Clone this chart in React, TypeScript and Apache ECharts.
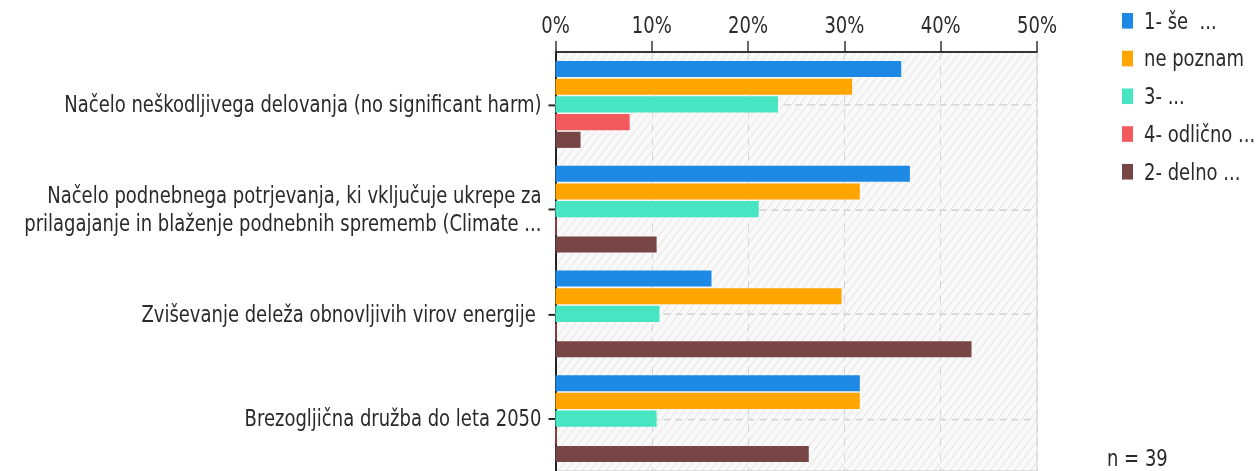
import React, { useEffect, useRef } from 'react';
import * as echarts from 'echarts';

const categories = [
  'Načelo neškodljivega delovanja (no significant harm)',
  'Načelo podnebnega potrjevanja, ki vključuje ukrepe za\nprilagajanje in blaženje podnebnih sprememb (Climate ...',
  'Zviševanje deleža obnovljivih virov energije ',
  'Brezogljična družba do leta 2050',
];

const seriesNames = ['1- še  ...', 'ne poznam', '3- ...', '4- odlično ...', '2- delno ...'];
const seriesColors = ['#1E88E5', '#FFA500', '#48E5C2', '#F25A5E', '#774545'];

const valuesSe = [35.9, 36.8, 16.2, 31.6];
const valuesNePoznam = [30.8, 31.6, 29.7, 31.6];
const values3 = [23.1, 21.1, 10.8, 10.5];
const values4Odlicno = [7.7, 0, 0, 0];
const values2Delno = [2.6, 10.5, 43.2, 26.3];

const xMin = 0;
const xMax = 50;
const xInterval = 10;
const nText = 'n = 39';

const H = 362;
const SCALE = 471 / H;
const FONT = 'DejaVu Sans';
const TEXT = '#2a2a2a';

export default function App() {
  const ref = useRef<HTMLDivElement>(null);
  useEffect(() => {
    if (!ref.current) return;
    const chart = echarts.init(ref.current, null, { renderer: 'svg' });

    const cv = document.createElement('canvas');
    cv.width = 8;
    cv.height = 8;
    const ctx = cv.getContext('2d')!;
    ctx.fillStyle = '#f9f9f9';
    ctx.fillRect(0, 0, 8, 8);
    ctx.strokeStyle = '#e2e2e2';
    ctx.lineWidth = 1;
    ctx.beginPath();
    ctx.moveTo(-1, 9);
    ctx.lineTo(9, -1);
    ctx.moveTo(-1, 1);
    ctx.lineTo(1, -1);
    ctx.moveTo(7, 9);
    ctx.lineTo(9, 7);
    ctx.stroke();
    const patternUrl = cv.toDataURL();

    const allValues = [valuesSe, valuesNePoznam, values3, values4Odlicno, values2Delno];

    chart.setOption({
      animation: false,
      textStyle: { fontFamily: FONT },
      grid: {
        left: 555.5,
        right: 223,
        top: 40,
        height: 324,
        show: true,
        borderColor: '#d4d4d4',
        borderWidth: 1,
        backgroundColor: { image: patternUrl, repeat: 'repeat' } as any,
      },
      legend: {
        orient: 'vertical',
        left: 1117,
        top: 1,
        itemWidth: 11,
        itemHeight: 12,
        itemGap: 9,
        icon: 'rect',
        textStyle: { fontSize: 18, color: TEXT, fontFamily: FONT, lineHeight: 20, padding: [0, 0, 0, 6] },
        data: seriesNames,
      },
      xAxis: {
        type: 'value',
        position: 'top',
        min: xMin,
        max: xMax,
        interval: xInterval,
        axisLine: { show: true, lineStyle: { color: '#333', width: 1.5 } },
        axisTick: { show: true, length: 8.5, lineStyle: { color: '#333', width: 1.5 } },
        axisLabel: { formatter: '{value}%', fontSize: 18, color: TEXT, margin: 12, fontFamily: FONT },
        splitLine: { show: true, lineStyle: { type: [6, 5], color: '#d6d6d6', width: 1 } },
      },
      yAxis: {
        type: 'category',
        inverse: true,
        data: categories,
        axisLine: { show: true, lineStyle: { color: '#222', width: 2 } },
        axisTick: { show: true, alignWithLabel: true, length: 7, lineStyle: { color: '#222', width: 1.5 } },
        axisLabel: { fontSize: 18, color: TEXT, margin: 14, lineHeight: 21, fontFamily: FONT },
        splitLine: { show: false },
      },
      series: seriesNames.map((name, i) => ({
        name,
        type: 'bar',
        data: allValues[i],
        barCategoryGap: '17%',
        barGap: '10%',
        barMinHeight: i === 3 ? 1 : 0,
        itemStyle: { color: seriesColors[i] },
        ...(i === 2
          ? {
              markLine: {
                silent: true,
                z: 1,
                symbol: 'none',
                label: { show: false },
                lineStyle: { type: [7, 5], color: '#d6d6d6', width: 1.3 },
                data: categories.map((c) => ({ yAxis: c })),
              },
            }
          : {}),
      })),
      graphic: [
        {
          type: 'text',
          left: 1107,
          top: 343,
          style: { text: nText, fontSize: 18, fill: TEXT, fontFamily: FONT },
        },
      ],
    });
    return () => chart.dispose();
  }, []);
  return (
    <div
      ref={ref}
      style={{
        position: 'fixed',
        left: 0,
        top: 0,
        width: 1260,
        height: H,
        transform: `scaleY(${SCALE})`,
        transformOrigin: '0 0',
      }}
    />
  );
}
